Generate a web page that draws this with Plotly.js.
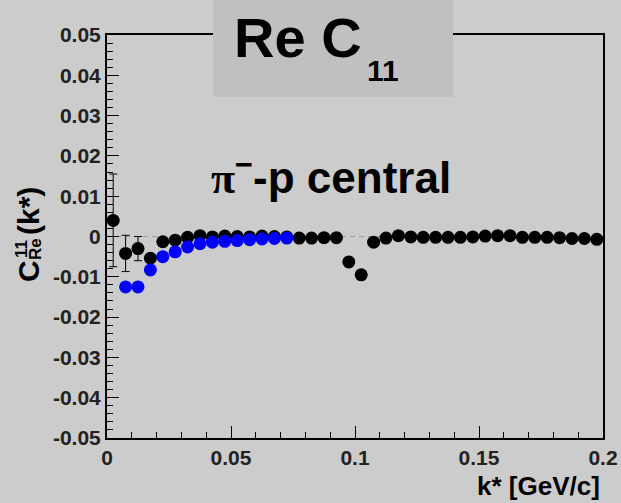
<!DOCTYPE html>
<html>
<head>
<meta charset="utf-8">
<script src="https://cdn.plot.ly/plotly-3.0.1.min.js"></script>
<style>html,body{margin:0;padding:0;background:#cccccc;}</style>
</head>
<body>
<div id="chart" style="width:621px;height:503px;"></div>
<script>
// black series (k*, value, error)
var kBlack = [0.0025,0.0075,0.0125,0.0175,0.0225,0.0275,0.0325,0.0375,0.0425,0.0475,
              0.0525,0.0575,0.0625,0.0675,0.0725,0.0775,0.0825,0.0875,0.0925,0.0975,
              0.1025,0.1075,0.1125,0.1175,0.1225,0.1275,0.1325,0.1375,0.1425,0.1475,
              0.1525,0.1575,0.1625,0.1675,0.1725,0.1775,0.1825,0.1875,0.1925,0.1975];
var cBlack = [0.0040,-0.0042,-0.0030,-0.0054,-0.0013,-0.0009,-0.0002,0.0002,-0.0001,0.0001,
              0.0000,-0.0001,0.0001,0.0000,-0.0001,-0.0004,-0.0004,-0.0003,-0.0003,-0.0063,
              -0.0095,-0.0014,-0.0004,0.0002,-0.0001,-0.0002,-0.0002,-0.0002,-0.0002,-0.0001,
              0.0001,0.0002,0.0002,-0.0002,-0.0002,-0.0002,-0.0003,-0.0005,-0.0005,-0.0007];
var eBlack = [0.0115,0.0045,0.0030,0.0009,0.0008,0.0008,0.0008,0.0008,0.0008,0.0008,
              0.0008,0.0008,0.0008,0.0008,0.0008,0.0008,0.0008,0.0008,0.0008,0.0008,
              0.0008,0.0008,0.0008,0.0008,0.0008,0.0008,0.0008,0.0008,0.0008,0.0008,
              0.0008,0.0008,0.0008,0.0008,0.0008,0.0008,0.0008,0.0008,0.0008,0.0008];
// blue series
var kBlue = [0.0075,0.0125,0.0175,0.0225,0.0275,0.0325,0.0375,0.0425,0.0475,0.0525,
             0.0575,0.0625,0.0675,0.0725];
var cBlue = [-0.0125,-0.0125,-0.0083,-0.0050,-0.0038,-0.0026,-0.0018,-0.0014,-0.0012,-0.0010,
             -0.0008,-0.0006,-0.0005,-0.0004];
var eBlue = [0.0007,0.0007,0.0007,0.0007,0.0007,0.0007,0.0007,0.0007,0.0007,0.0007,
             0.0007,0.0007,0.0007,0.0007];
var halfBin = 0.0025;

var xTickVals = [0,0.05,0.1,0.15,0.2];
var xTickText = ['0','0.05','0.1','0.15','0.2'];
var yTickVals = [0.05,0.04,0.03,0.02,0.01,0,-0.01,-0.02,-0.03,-0.04,-0.05];
var yTickText = ['0.05','0.04','0.03','0.02','0.01','0','-0.01','-0.02','-0.03','-0.04','-0.05'];

var FONT = 'Liberation Sans, Arial, Helvetica, sans-serif';

var traces = [
  {x:kBlack, y:cBlack, type:'scatter', mode:'markers',
   marker:{color:'#000000', size:13},
   error_y:{type:'data', array:eBlack, color:'#000000', thickness:1, width:4},
   error_x:{type:'constant', value:halfBin, color:'#000000', thickness:1, width:0},
   hoverinfo:'skip', showlegend:false},
  {x:kBlue, y:cBlue, type:'scatter', mode:'markers',
   marker:{color:'#0000ff', size:13},
   error_y:{type:'data', array:eBlue, color:'#0000ff', thickness:1, width:0},
   error_x:{type:'constant', value:halfBin, color:'#0000ff', thickness:1, width:0},
   hoverinfo:'skip', showlegend:false}
];

function px2x(p){ return (p-107)/496; }
function px2y(p){ return (438-p)/403; }

var layout = {
  width:621, height:503,
  paper_bgcolor:'#cccccc', plot_bgcolor:'#cccccc',
  margin:{l:107, r:18, t:35, b:65},
  showlegend:false,
  xaxis:{range:[0,0.2], tickvals:xTickVals, ticktext:xTickText,
         ticks:'inside', ticklen:12, tickwidth:1, tickcolor:'#000',
         minor:{ticks:'inside', ticklen:6, dtick:0.01, tick0:0, tickcolor:'#000', tickwidth:1},
         showline:true, linecolor:'#000', linewidth:2, mirror:true,
         showgrid:false, zeroline:false,
         tickfont:{family:FONT, size:21, color:'#222', weight:'bold'}},
  yaxis:{range:[-0.05,0.05], tickvals:yTickVals, ticktext:yTickText,
         ticks:'inside', ticklen:12, tickwidth:1, tickcolor:'#000',
         minor:{ticks:'inside', ticklen:6, dtick:0.002, tick0:0, tickcolor:'#000', tickwidth:1},
         showline:true, linecolor:'#000', linewidth:2, mirror:true,
         showgrid:false, zeroline:false,
         tickfont:{family:FONT, size:21, color:'#222', weight:'bold'}},
  shapes:[
    {type:'line', xref:'x', yref:'y', x0:0, x1:0.2, y0:0, y1:0, layer:'below',
     line:{color:'#999999', width:1, dash:'5px,4px'}},
    {type:'rect', xref:'paper', yref:'paper', x0:px2x(213), x1:px2x(453), y0:px2y(97), y1:px2y(-5),
     fillcolor:'#c0c0c0', line:{width:0}, layer:'above'}
  ],
  annotations:[
    {xref:'paper', yref:'paper', x:px2x(232), y:px2y(37), xanchor:'left', yanchor:'middle',
     text:'Re C', showarrow:false, font:{family:FONT, size:56, color:'#000', weight:'bold'}},
    {xref:'paper', yref:'paper', x:px2x(365), y:px2y(71), xanchor:'left', yanchor:'middle',
     text:'11', showarrow:false, font:{family:FONT, size:30, color:'#000', weight:'bold'}},
    {xref:'paper', yref:'paper', x:px2x(331), y:px2y(175), xanchor:'center', yanchor:'middle',
     text:'<span style="font-family:Liberation Serif">π</span><sup>−</sup>-p central', showarrow:false,
     font:{family:FONT, size:44, color:'#000', weight:'bold'}},
    {xref:'paper', yref:'paper', x:px2x(602), y:px2y(486), xanchor:'right', yanchor:'middle',
     text:'k* [GeV/c]', showarrow:false, font:{family:FONT, size:26, color:'#000', weight:'bold'}},
    {xref:'paper', yref:'paper', x:px2x(28), y:px2y(271), xanchor:'center', yanchor:'middle', textangle:-90,
     text:'C', showarrow:false, font:{family:FONT, size:30, color:'#000', weight:'bold'}},
    {xref:'paper', yref:'paper', x:px2x(21), y:px2y(249), xanchor:'center', yanchor:'middle', textangle:-90,
     text:'11', showarrow:false, font:{family:FONT, size:17, color:'#000', weight:'bold'}},
    {xref:'paper', yref:'paper', x:px2x(35), y:px2y(249), xanchor:'center', yanchor:'middle', textangle:-90,
     text:'Re', showarrow:false, font:{family:FONT, size:17, color:'#000', weight:'bold'}},
    {xref:'paper', yref:'paper', x:px2x(28), y:px2y(211), xanchor:'center', yanchor:'middle', textangle:-90,
     text:'(k*)', showarrow:false, font:{family:FONT, size:30, color:'#000', weight:'bold'}}
  ]
};

Plotly.newPlot('chart', traces, layout, {staticPlot:true, displayModeBar:false});
</script>
</body>
</html>
